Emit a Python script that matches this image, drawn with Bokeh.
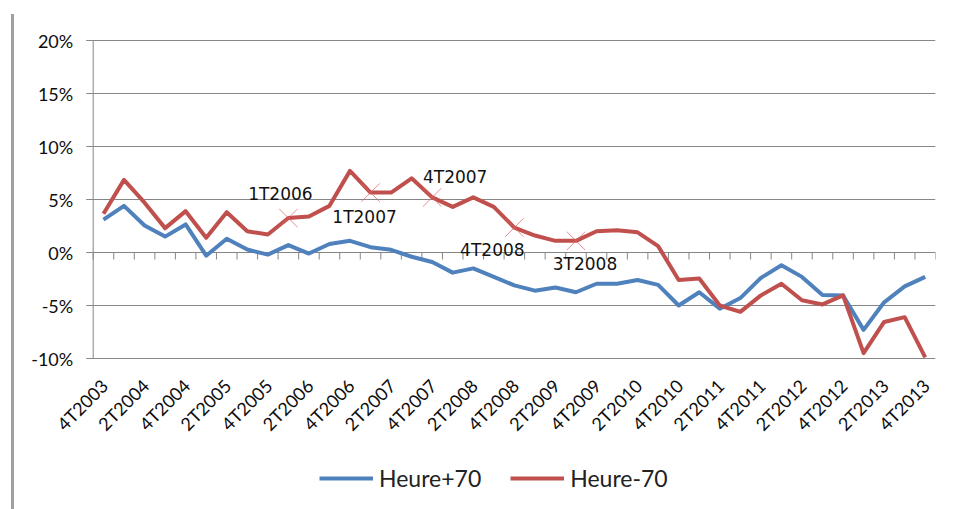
import math
from bokeh.plotting import figure
from bokeh.models import Range1d, Legend, LegendItem
from bokeh.core.properties import value
from bokeh.embed import file_html
from bokeh.resources import INLINE

quarters = ["4T2003",
            "1T2004", "2T2004", "3T2004", "4T2004",
            "1T2005", "2T2005", "3T2005", "4T2005",
            "1T2006", "2T2006", "3T2006", "4T2006",
            "1T2007", "2T2007", "3T2007", "4T2007",
            "1T2008", "2T2008", "3T2008", "4T2008",
            "1T2009", "2T2009", "3T2009", "4T2009",
            "1T2010", "2T2010", "3T2010", "4T2010",
            "1T2011", "2T2011", "3T2011", "4T2011",
            "1T2012", "2T2012", "3T2012", "4T2012",
            "1T2013", "2T2013", "3T2013", "4T2013"]

heure_plus_70 = [3.1, 4.4, 2.55, 1.5, 2.65, -0.3, 1.3, 0.28, -0.2, 0.7,
                 -0.1, 0.8, 1.1, 0.5, 0.25, -0.4, -0.9, -1.9, -1.5, -2.3,
                 -3.1, -3.6, -3.3, -3.75, -2.95, -2.95, -2.6, -3.05, -5.0, -3.75,
                 -5.3, -4.3, -2.4, -1.2, -2.3, -4.0, -4.05, -7.3, -4.7, -3.2,
                 -2.3]

heure_moins_70 = [3.65, 6.85, 4.7, 2.3, 3.9, 1.4, 3.8, 2.0, 1.7, 3.25,
                  3.4, 4.4, 7.7, 5.65, 5.65, 7.0, 5.2, 4.3, 5.2, 4.3,
                  2.35, 1.6, 1.1, 1.1, 2.0, 2.1, 1.9, 0.6, -2.6, -2.45,
                  -5.0, -5.6, -4.05, -2.95, -4.5, -4.9, -4.05, -9.5, -6.55, -6.1,
                  -9.9]

y_ticks = [-10, -5, 0, 5, 10, 15, 20]
y_tick_labels = [f"{t}%" for t in y_ticks]

marked_quarters = ["1T2006", "1T2007", "4T2007", "4T2008", "3T2009"]
marked_labels = ["1T2006", "1T2007", "4T2007", "4T2008", "3T2008"]

# style: pixel offsets of the annotation texts
ann_dx = [-8, -6, 23, -22, 9]
ann_dy = [-24, 24, -20, 22, 23]

n = len(quarters)
idx = list(range(n))
y_lo, y_hi = min(y_ticks), max(y_ticks)

# layout geometry (page pixels)
canvas_left_px, axis_left_px, axis_right_px = 14, 92.7, 935
canvas_top_px, frame_top_px, axis_bottom_px, canvas_bottom_px = 14, 40, 358, 509
px_per_unit_y = (axis_bottom_px - frame_top_px) / (y_hi - y_lo)
y_start = y_lo - (canvas_bottom_px - axis_bottom_px) / px_per_unit_y
y_end = y_hi + (frame_top_px - canvas_top_px) / px_per_unit_y
px_per_cat = (axis_right_px - axis_left_px) / n
x_start = -0.5 - (axis_left_px - canvas_left_px) / px_per_cat
tick_len_x = 7 / px_per_cat
tick_len_y = 7 / px_per_unit_y

p = figure(width=930, height=495, output_backend="svg", toolbar_location=None,
           x_range=Range1d(x_start, n - 0.5), y_range=Range1d(y_start, y_end),
           x_axis_location=None, y_axis_location=None,
           min_border_left=0, min_border_right=9, min_border_top=0, min_border_bottom=0)
p.styles = {"margin-left": "11px", "margin-top": "14px",
            "border-left": "3px solid #A0A0A0"}
p.outline_line_color = None
p.background_fill_color = "white"
p.border_fill_color = "white"
p.xgrid.visible = False
p.ygrid.visible = False

axis_col = "#868686"
# horizontal gridlines
p.segment(x0=[-0.5] * len(y_ticks), y0=y_ticks, x1=[n - 0.5] * len(y_ticks), y1=y_ticks,
          line_color=axis_col, line_width=1)
# vertical axis line with outward ticks
p.segment(x0=[-0.5], y0=[y_lo], x1=[-0.5], y1=[y_hi], line_color=axis_col, line_width=1)
p.segment(x0=[-0.5 - tick_len_x] * len(y_ticks), y0=y_ticks, x1=[-0.5] * len(y_ticks),
          y1=y_ticks, line_color=axis_col, line_width=1)
p.text([-0.5] * len(y_ticks), y_ticks, text=y_tick_labels, x_offset=-20,
       text_align="right", text_baseline="middle", text_font=value("Lato"),
       text_font_size="18px", text_color="#0d0d0d")

# category tick marks on the 0% axis line
bounds = [k - 0.5 for k in range(n + 1)]
p.segment(x0=bounds, y0=[0] * len(bounds), x1=bounds, y1=[-tick_len_y] * len(bounds),
          line_color=axis_col, line_width=1)

# category labels (rotated), below the -10% line
lab_idx = idx[::2]
p.text(lab_idx, [y_lo] * len(lab_idx), text=[quarters[i] for i in lab_idx],
       angle=math.pi / 4, text_align="right", text_baseline="middle",
       x_offset=1, y_offset=24, text_font=value("Lato"), text_font_size="18px",
       text_color="#0d0d0d")

r1 = p.line(idx, heure_plus_70, line_color="#4F81BD", line_width=4, line_join="round")
r2 = p.line(idx, heure_moins_70, line_color="#C0504D", line_width=4, line_join="round")

mark_idx = [quarters.index(q) for q in marked_quarters]
mark_y = [heure_moins_70[i] for i in mark_idx]
p.scatter(mark_idx, mark_y, marker="x", size=26, line_color="#E06666",
          line_alpha=0.75, line_width=1)
p.text(mark_idx, mark_y, text=marked_labels, x_offset=ann_dx, y_offset=ann_dy,
       text_align="center", text_baseline="middle", text_font=value("DejaVu Sans"),
       text_font_size="17px", text_color="#111111")

legend = Legend(items=[LegendItem(label="Heure+70", renderers=[r1]),
                       LegendItem(label="Heure-70", renderers=[r2])],
                orientation="horizontal", location=(305, 17),
                label_text_font="Lato", label_text_font_size="23px",
                label_text_color="#222222",
                glyph_width=54, glyph_height=24, label_standoff=6, spacing=29,
                padding=0, margin=0, border_line_color=None,
                background_fill_alpha=0)
p.add_layout(legend)

open("out.html", "w").write(file_html(p, INLINE))
